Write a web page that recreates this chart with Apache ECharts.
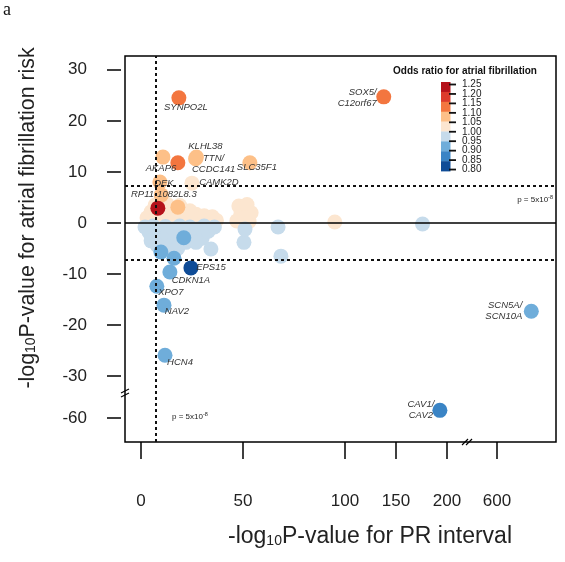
<!DOCTYPE html>
<html><head><meta charset="utf-8">
<script src="https://cdn.jsdelivr.net/npm/echarts@6/dist/echarts.min.js"></script>
<style>html,body{margin:0;padding:0;background:#fff}#c{width:565px;height:562px}</style>
</head><body><div id="c"></div>
<script>
// ---------- data ----------
const prLog10P = [3,5,6,8,10,11,12,14,15,16,18,20,21,23,24,26,27,29,31,33,35,37,10,13,19,7,47,48,49,52,53,54,51,95,
  2,4,6,7,9,11,12,13,15,16,18,19,21,24,26,28,30,31,33,36,8,12,18,22,27,5,34.3,50.5,67.2,68.6,51,176,
  21,9.8,16.2,25,10,18.1,9.3,10.8,18.1,26.8,27.2,53.4,18.6,138,8.3,
  14.2,7.8,11.3,11.8,684,24.5,193];
const afLog10P = [1.0,2.2,0.5,1.6,0.6,2.6,1.3,0.4,2.8,1.5,0.7,1.9,0.4,1.2,2.4,0.6,1.7,0.8,1.4,0.5,1.2,0.5,4.5,3.6,3.4,3.5,0.4,3.3,1.8,3.6,0.3,2.0,1.0,0.2,
  -0.8,-1.8,-0.6,-2.9,-1.5,-3.6,-0.7,-2.3,-4.3,-1.2,-3.0,-0.6,-1.7,-0.8,-2.3,-1.2,-3.0,-0.6,-1.6,-0.8,-4.4,-5.2,-5.0,-3.8,-3.8,-3.5,-5.1,-3.8,-0.8,-6.5,-1.2,-0.2,
  -2.9,-5.7,-6.9,7.8,5.5,3.1,8.0,12.9,11.8,12.6,12.9,11.8,24.5,24.7,2.9,
  -9.6,-12.4,-16.1,-25.9,-17.3,-8.8,-57];
const oddsRatio = [1.03,1.02,1.03,1.04,1.02,1.03,1.03,1.02,1.04,1.03,1.02,1.03,1.03,1.02,1.03,1.03,1.02,1.03,1.03,1.02,1.03,1.03,1.04,1.03,1.03,1.03,1.03,1.03,1.02,1.03,1.02,1.03,1.03,1.03,
  0.97,0.97,0.98,0.97,0.97,0.96,0.98,0.97,0.96,0.97,0.97,0.98,0.97,0.97,0.97,0.98,0.97,0.98,0.97,0.97,0.96,0.96,0.96,0.97,0.97,0.97,0.97,0.97,0.97,0.97,0.97,0.97,
  0.92,0.92,0.92,1.03,1.06,1.07,1.07,1.07,1.13,1.07,1.07,1.08,1.13,1.12,1.23,
  0.92,0.92,0.92,0.92,0.92,0.82,0.87];
const geneNames = ['','','','','','','','','','','','','','','','','','','','','','','','','','','','','','','','','','',
  '','','','','','','','','','','','','','','','','','','','','','','','','','','','','','','','',
  '','','','CAMK2D','','','DEK','AKAP6','','TTN/CCDC141','KLHL38','SLC35F1','SYNPO2L','SOX5/C12orf67','RP11-1082L8.3',
  'CDKN1A','XPO7','NAV2','HCN4','SCN5A/SCN10A','EPS15','CAV1/CAV2'];

const xTickValues = [0, 50, 100, 150, 200, 600];
const yTickValues = [30, 20, 10, 0, -10, -20, -30, -60];
const orBreaks = [1.25, 1.20, 1.15, 1.10, 1.05, 1.00, 0.95, 0.90, 0.85, 0.80];
const orColors = ['#B5121B', '#DC3B2C', '#F3763F', '#FDC088', '#FCE6D0', '#C6DBEB', '#6FADDA', '#3A84C5', '#0F4C97'];
const gwsThreshold = 7.3;   // -log10(5e-8)

// ---------- broken-axis scales ----------
function fx(v) { if (v <= 100) return v; if (v <= 200) return 100 + (v - 100) / 2; return 174.5 + (v - 600) * 0.2; }
function fy(v) { return v >= -30 ? v : -38.2 + (v + 60) * 0.5; }
const X_MIN = -7.8, X_MAX = 203.4, Y_MIN = -42.9, Y_MAX = 32.7;
const X_BREAK_DISP = 159.8, Y_BREAK_DISP = -33.3;

// label placement (style)
const labelPos = {
  'SYNPO2L': [7, 9, 'center'], 'SOX5/C12orf67': [-7, 1, 'right'], 'KLHL38': [9, -11, 'center'],
  'TTN/CCDC141': [18, 5, 'center'], 'AKAP6': [-2, 11, 'center'], 'SLC35F1': [7, 5, 'center'],
  'DEK': [4, 1, 'center'], 'RP11-1082L8.3': [6, -14, 'center'], 'CAMK2D': [27, -1, 'center'],
  'EPS15': [20, -1, 'center'], 'CDKN1A': [21, 8, 'center'], 'XPO7': [14, 6, 'center'],
  'NAV2': [13, 6, 'center'], 'HCN4': [15, 7, 'center'], 'SCN5A/SCN10A': [-9, 0, 'right'],
  'CAV1/CAV2': [-19, 0, 'center']
};

const points = prLog10P.map((x, i) => {
  const name = geneNames[i];
  const item = { name: name, value: [fx(x), fy(afLog10P[i]), oddsRatio[i]] };
  if (name) {
    const p = labelPos[name];
    item.label = {
      show: true, position: 'inside', offset: [p[0], p[1]], align: p[2], verticalAlign: 'middle',
      formatter: name.replace('/', '/\n'), fontStyle: 'italic', fontSize: 9.5, lineHeight: 11,
      color: '#333', textBorderWidth: 0
    };
  }
  return item;
});

const xTickDisp = xTickValues.map(fx);
const yTickDisp = yTickValues.map(fy);
function lookup(disp, vals, v) {
  let best = 0; for (let i = 0; i < disp.length; i++) if (Math.abs(disp[i] - v) < Math.abs(disp[best] - v)) best = i;
  return String(vals[best]);
}

const chart = echarts.init(document.getElementById('c'), null, { renderer: 'canvas' });
const FONT = '"Liberation Sans", Arial, Helvetica, sans-serif';

const graphics = [];
graphics.push({ type: 'text', x: 465, y: 71, style: { text: 'Odds ratio for atrial fibrillation', fontSize: 10, fontWeight: 'bold', fontFamily: FONT, fill: '#111', align: 'center', verticalAlign: 'middle' } });
const barTop = 82, segH = 9.9;
orColors.forEach((c, i) => {
  graphics.push({ type: 'rect', shape: { x: 441, y: barTop + i * segH, width: 9.5, height: segH + 0.3 }, style: { fill: c } });
});
orBreaks.forEach((b, i) => {
  const yy = barTop + 2.5 + i * 9.45;
  graphics.push({ type: 'line', shape: { x1: 449, y1: yy, x2: 456, y2: yy }, style: { stroke: '#111', lineWidth: 1.8 } });
  graphics.push({ type: 'text', x: 462, y: yy, style: { text: b.toFixed(2), fontSize: 10, fontFamily: FONT, fill: '#222', align: 'left', verticalAlign: 'middle' } });
});

const supRich = { sup: { fontSize: 5.5, verticalAlign: 'top', lineHeight: 6, fontFamily: FONT, fill: '#222' }, n: { fontSize: 8, lineHeight: 12, fontFamily: FONT, fill: '#222' } };
const subRich = { s: { fontSize: 14, lineHeight: 10, verticalAlign: 'bottom', fontFamily: FONT, fill: '#222' } };

graphics.push(
  { type: 'text', x: 3, y: 1, style: { text: 'a', fontSize: 18, fontFamily: '"Liberation Serif", serif', fill: '#111' } },
  { type: 'text', x: 370, y: 537, style: { text: '-log{s|10}P-value for PR interval', rich: subRich, fontSize: 23, fontFamily: FONT, fill: '#222', align: 'center', verticalAlign: 'middle' } },
  { type: 'text', x: 28, y: 218, rotation: Math.PI / 2, style: { text: '-log{s|10}P-value for atrial fibrillation risk', rich: subRich, fontSize: 21.3, fontFamily: FONT, fill: '#222', align: 'center', verticalAlign: 'middle' } },
  { type: 'text', x: 553, y: 200, style: { text: '{n|p = 5x10}{sup|-8}', rich: supRich, align: 'right', verticalAlign: 'middle' } },
  { type: 'text', x: 172, y: 417, style: { text: '{n|p = 5x10}{sup|-8}', rich: supRich, align: 'left', verticalAlign: 'middle' } }
);

const option = {
  animation: false,
  textStyle: { fontFamily: FONT },
  grid: { left: 125, right: 9, top: 56, bottom: 120, show: true, borderColor: '#000', borderWidth: 1.5, backgroundColor: 'transparent' },
  visualMap: {
    type: 'piecewise', show: false, dimension: 2, seriesIndex: 1,
    pieces: orColors.map((c, i) => ({ min: orBreaks[i + 1], max: orBreaks[i], color: c }))
  },
  xAxis: {
    type: 'value', min: X_MIN, max: X_MAX,
    axisLine: { show: false, onZero: false }, splitLine: { show: false },
    axisTick: { show: true, customValues: xTickDisp, length: 17, lineStyle: { color: '#000', width: 1.5 } },
    axisLabel: { customValues: xTickDisp, formatter: v => lookup(xTickDisp, xTickValues, v), margin: 51, fontSize: 17, color: '#222' }
  },
  yAxis: {
    type: 'value', min: Y_MIN, max: Y_MAX, offset: 4,
    axisLine: { show: false, onZero: false }, splitLine: { show: false },
    axisTick: { show: true, customValues: yTickDisp, length: 14, lineStyle: { color: '#000', width: 1.5 } },
    axisLabel: { customValues: yTickDisp, formatter: v => lookup(yTickDisp, yTickValues, v), margin: 34, fontSize: 17, color: '#222' }
  },
  series: [
    {
      type: 'scatter', data: [], z: 1, silent: true,
      markLine: {
        silent: true, symbol: 'none', label: { show: false }, animation: false,
        data: [
          { yAxis: 0, lineStyle: { type: 'solid', color: '#000', width: 1.6 } },
          { yAxis: fy(gwsThreshold), lineStyle: { type: [3, 3], color: '#111', width: 2 } },
          { yAxis: fy(-gwsThreshold), lineStyle: { type: [3, 3], color: '#111', width: 2 } },
          { xAxis: fx(gwsThreshold), lineStyle: { type: [3, 3], color: '#111', width: 2 } }
        ]
      }
    },
    {
      type: 'scatter', z: 3, symbolSize: 15, data: points,
      itemStyle: { opacity: 1 },
      label: { show: false },
      emphasis: { disabled: true }
    }
  ],
  graphic: graphics
};
chart.setOption(option);

// axis-break marks, placed through the chart's own coordinate conversion
const pY = chart.convertToPixel({ gridIndex: 0 }, [X_MIN, Y_BREAK_DISP]);
const pX = chart.convertToPixel({ gridIndex: 0 }, [X_BREAK_DISP, Y_MIN]);
const breakEls = [];
[-2, 2].forEach(o => {
  breakEls.push({ type: 'line', shape: { x1: pY[0] - 4, y1: pY[1] + o + 2, x2: pY[0] + 4, y2: pY[1] + o - 2 }, style: { stroke: '#000', lineWidth: 1.2 } });
  breakEls.push({ type: 'line', shape: { x1: pX[0] + o - 3, y1: pX[1] + 3, x2: pX[0] + o + 3, y2: pX[1] - 3 }, style: { stroke: '#000', lineWidth: 1.2 } });
});
chart.setOption({ graphic: graphics.concat(breakEls) });
</script></body></html>
